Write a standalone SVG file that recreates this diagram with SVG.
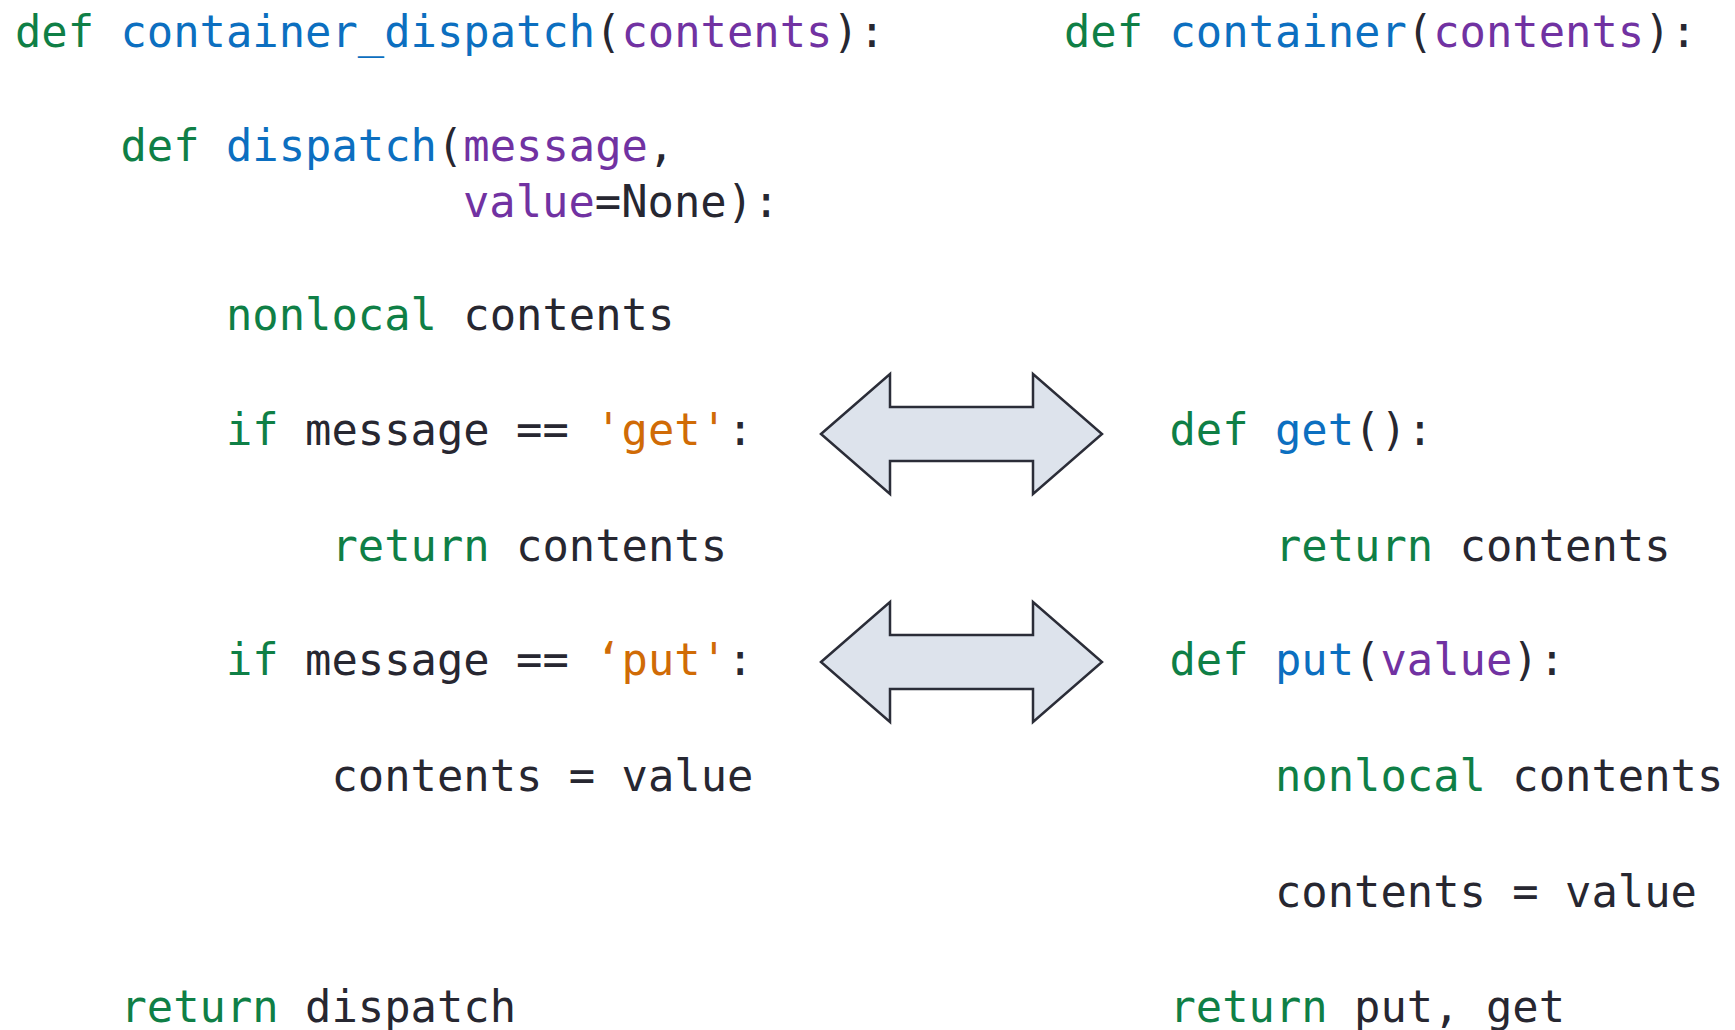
<svg xmlns="http://www.w3.org/2000/svg" width="1735" height="1030" viewBox="0 0 1735 1030">
  <style>
    text { font-family: "DejaVu Sans Mono", "Liberation Mono", monospace; font-size: 43.8px; fill: #272731; white-space: pre; }
    .kw { fill: #0F7F46; }
    .fn { fill: #0C6FC0; }
    .pa { fill: #7132A2; }
    .st { fill: #D06B06; }
    .arrow { fill: #DDE3EC; stroke: #2B2D38; stroke-width: 2.5; stroke-linejoin: miter; }
  </style>
  <defs>
    <path id="dblArrow" d="M0,0 L69,-60 L69,-27 L212,-27 L212,-60 L281,0 L212,60 L212,27 L69,27 L69,60 Z"/>
  </defs>

  <rect width="1735" height="1030" fill="#FFFFFF"/>

  <!-- dispatch-based container -->
  <g id="container_dispatch">
    <text x="15" y="47"><tspan class="kw">def</tspan> <tspan class="fn">container_dispatch</tspan>(<tspan class="pa">contents</tspan>):</text>
    <text x="120.5" y="161"><tspan class="kw">def</tspan> <tspan class="fn">dispatch</tspan>(<tspan class="pa">message</tspan>,</text>
    <text x="463" y="217"><tspan class="pa">value</tspan>=None):</text>
    <text x="226" y="330"><tspan class="kw">nonlocal</tspan> contents</text>
    <text x="226" y="445"><tspan class="kw">if</tspan> message == <tspan class="st">'get'</tspan>:</text>
    <text x="331.5" y="561"><tspan class="kw">return</tspan> contents</text>
    <text x="226" y="675"><tspan class="kw">if</tspan> message == <tspan class="st">‘put'</tspan>:</text>
    <text x="331.5" y="791">contents = value</text>
    <text x="120.5" y="1022"><tspan class="kw">return</tspan> dispatch</text>
  </g>

  <!-- closure-based container -->
  <g id="container">
    <text x="1064" y="47"><tspan class="kw">def</tspan> <tspan class="fn">container</tspan>(<tspan class="pa">contents</tspan>):</text>
    <text x="1169.5" y="445"><tspan class="kw">def</tspan> <tspan class="fn">get</tspan>():</text>
    <text x="1275" y="561"><tspan class="kw">return</tspan> contents</text>
    <text x="1169.5" y="675"><tspan class="kw">def</tspan> <tspan class="fn">put</tspan>(<tspan class="pa">value</tspan>):</text>
    <text x="1275" y="791"><tspan class="kw">nonlocal</tspan> contents</text>
    <text x="1275" y="907">contents = value</text>
    <text x="1169.5" y="1022"><tspan class="kw">return</tspan> put, get</text>
  </g>

  <!-- equivalence arrows between the two versions -->
  <g id="connectors">
    <use href="#dblArrow" class="arrow" transform="translate(821,434)"/>
    <use href="#dblArrow" class="arrow" transform="translate(821,662)"/>
  </g>
</svg>
